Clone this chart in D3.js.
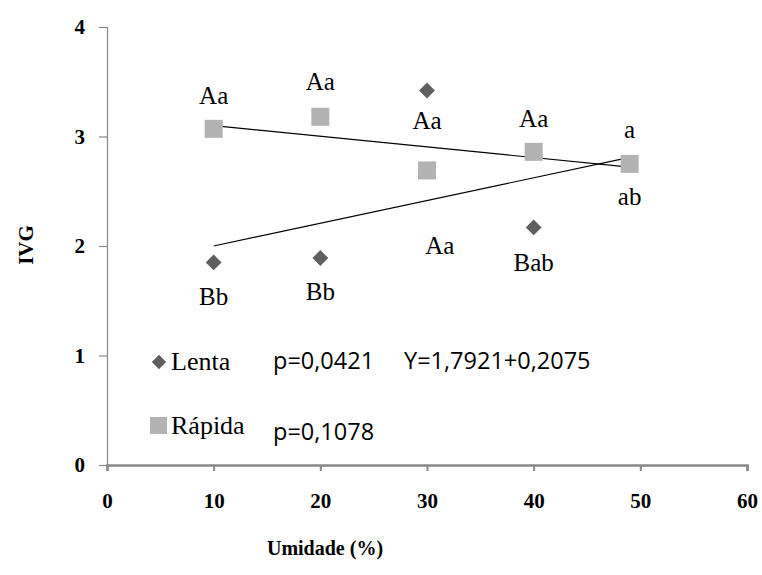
<!DOCTYPE html>
<html><head><meta charset="utf-8">
<script src="https://cdn.jsdelivr.net/npm/d3@7"></script>
<style>body{margin:0;background:#fff}</style>
</head><body>
<svg id="c" width="762" height="575"></svg>
<script>
const xTicks = [0, 10, 20, 30, 40, 50, 60];
const yTicks = [0, 1, 2, 3, 4];
const lentaX = [10, 20, 30, 40, 49];
const lentaY = [1.85, 1.89, 3.42, 2.17, 2.75];
const rapidaX = [10, 20, 30, 40, 49];
const rapidaY = [3.07, 3.18, 2.69, 2.86, 2.75];
const lentaTrend = [[10, 2.0], [49, 2.81]];
const rapidaTrend = [[10, 3.10], [49, 2.72]];
const labels = [
  {x: 10, y: 3.07, t: "Aa", dy: -31},
  {x: 20, y: 3.18, t: "Aa", dy: -33},
  {x: 30, y: 3.42, t: "Aa", dy: 33},
  {x: 31.2, y: 2.69, t: "Aa", dy: 78},
  {x: 40, y: 2.86, t: "Aa", dy: -31},
  {x: 49, y: 2.75, t: "a", dy: -32},
  {x: 49, y: 2.75, t: "ab", dy: 35},
  {x: 10, y: 1.85, t: "Bb", dy: 37},
  {x: 20, y: 1.89, t: "Bb", dy: 36},
  {x: 40, y: 2.17, t: "Bab", dy: 38}
];

const SERIF = "'Liberation Serif', 'Times New Roman', 'DejaVu Serif', serif";
const SANS = "'Open Sans', 'Liberation Sans', sans-serif";

const svg = d3.select("#c");
const x = d3.scaleLinear().domain([0, 60]).range([107, 747]);
const y = d3.scaleLinear().domain([0, 4]).range([465, 27]);

// y axis
const ya = svg.append("g").attr("transform", "translate(107,0)")
  .call(d3.axisLeft(y).tickValues(yTicks).tickSize(8).tickPadding(14).tickFormat(d3.format("d")));
ya.select(".domain").attr("stroke", "#888").attr("stroke-width", 1.2);
ya.selectAll(".tick line").attr("stroke", "#888").attr("stroke-width", 1.2);
ya.selectAll(".tick text").style("font-family", SERIF).attr("font-weight", "bold")
  .attr("font-size", 21).attr("fill", "#000");

// x axis
const xa = svg.append("g").attr("transform", "translate(0,465)")
  .call(d3.axisBottom(x).tickValues(xTicks).tickSize(6).tickPadding(22).tickFormat(d3.format("d")));
xa.select(".domain").attr("stroke", "#888").attr("stroke-width", 2.5);
xa.selectAll(".tick line").attr("stroke", "#888").attr("stroke-width", 2);
xa.selectAll(".tick text").style("font-family", SERIF).attr("font-weight", "bold")
  .attr("font-size", 21).attr("fill", "#000");

// axis titles
svg.append("text").attr("transform", "translate(33,245) rotate(-90)").attr("text-anchor", "middle")
  .style("font-family", SERIF).attr("font-weight", "bold").attr("font-size", 21).text("IVG");
svg.append("text").attr("x", 325).attr("y", 555).attr("text-anchor", "middle")
  .style("font-family", SERIF).attr("font-weight", "bold").attr("font-size", 20).text("Umidade (%)");

// trend lines
const line = d3.line().x(d => x(d[0])).y(d => y(d[1]));
[lentaTrend, rapidaTrend].forEach(t => {
  svg.append("path").attr("d", line(t)).attr("stroke", "#000").attr("stroke-width", 1.2).attr("fill", "none");
});

// points
const diamond = d3.symbol().type(d3.symbolDiamond2).size(160);
lentaX.forEach((v, i) => {
  svg.append("path").attr("d", diamond()).attr("fill", "#5f5f5f")
    .attr("transform", `translate(${x(v)},${y(lentaY[i])})`);
});
rapidaX.forEach((v, i) => {
  svg.append("rect").attr("x", x(v) - 9).attr("y", y(rapidaY[i]) - 9).attr("width", 18).attr("height", 18)
    .attr("fill", "#b3b3b3");
});

// labels
labels.forEach(l => {
  svg.append("text").attr("x", x(l.x)).attr("y", y(l.y) + l.dy).attr("text-anchor", "middle")
    .attr("dominant-baseline", "middle").style("font-family", SERIF).attr("font-size", 25)
    .text(l.t);
});

// legend
svg.append("path").attr("d", d3.symbol().type(d3.symbolDiamond2).size(130)()).attr("fill", "#5f5f5f")
  .attr("transform", "translate(159,362)");
svg.append("text").attr("x", 171).attr("y", 370).style("font-family", SERIF).attr("font-size", 26).text("Lenta");
svg.append("text").attr("x", 273).attr("y", 369).style("font-family", SANS).attr("font-size", 23.5).text("p=0,0421");
svg.append("text").attr("x", 404).attr("y", 369).style("font-family", SANS).attr("font-size", 23.5).text("Y=1,7921+0,2075");
svg.append("rect").attr("x", 150).attr("y", 417).attr("width", 17).attr("height", 17).attr("fill", "#b3b3b3");
svg.append("text").attr("x", 171).attr("y", 434).style("font-family", SERIF).attr("font-size", 26).text("Rápida");
svg.append("text").attr("x", 273).attr("y", 440).style("font-family", SANS).attr("font-size", 23.5).text("p=0,1078");
</script>
</body></html>
